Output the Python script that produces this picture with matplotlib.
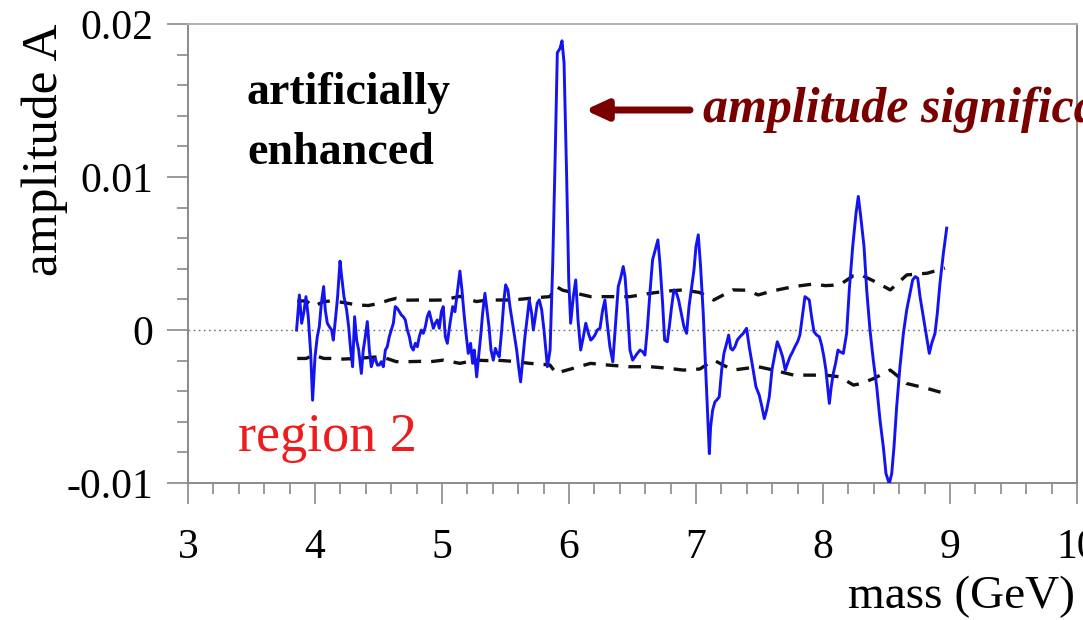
import matplotlib
matplotlib.use("Agg")
import matplotlib.pyplot as plt
import numpy as np

# ---------------- data ----------------
mass = [3.855, 3.877, 3.895, 3.913, 3.929, 3.947, 3.966, 3.981, 4.000, 4.018,
        4.034, 4.050, 4.068, 4.081, 4.097, 4.113, 4.131, 4.144, 4.163, 4.178,
        4.197, 4.210, 4.228, 4.249, 4.265, 4.281, 4.296, 4.312, 4.328, 4.344,
        4.365, 4.380, 4.396, 4.412, 4.428, 4.443, 4.459, 4.475, 4.491, 4.506,
        4.522, 4.538, 4.554, 4.569, 4.585, 4.601, 4.617, 4.632, 4.648, 4.664,
        4.680, 4.695, 4.711, 4.727, 4.743, 4.758, 4.774, 4.790, 4.806, 4.821,
        4.837, 4.853, 4.869, 4.884, 4.900, 4.916, 4.932, 4.947, 4.963, 4.979,
        4.995, 5.010, 5.026, 5.042, 5.063, 5.084, 5.102, 5.120, 5.141, 5.157,
        5.173, 5.189, 5.207, 5.225, 5.241, 5.254, 5.273, 5.288, 5.304, 5.320,
        5.338, 5.351, 5.370, 5.386, 5.404, 5.420, 5.435, 5.451, 5.470, 5.488,
        5.501, 5.519, 5.535, 5.551, 5.567, 5.588, 5.603, 5.619, 5.635, 5.653,
        5.672, 5.687, 5.706, 5.719, 5.735, 5.750, 5.766, 5.785, 5.803, 5.830,
        5.851, 5.872, 5.890, 5.908, 5.929, 5.945, 5.961, 5.982, 5.998, 6.013,
        6.034, 6.053, 6.071, 6.092, 6.113, 6.132, 6.153, 6.171, 6.186, 6.204,
        6.223, 6.244, 6.265, 6.283, 6.301, 6.322, 6.345, 6.388, 6.406, 6.427,
        6.441, 6.459, 6.480, 6.501, 6.519, 6.538, 6.559, 6.580, 6.598, 6.616,
        6.637, 6.658, 6.679, 6.700, 6.716, 6.737, 6.753, 6.774, 6.790, 6.808,
        6.826, 6.847, 6.863, 6.884, 6.905, 6.926, 6.945, 6.966, 6.984, 7.000,
        7.018, 7.036, 7.057, 7.073, 7.089, 7.105, 7.115, 7.131, 7.149, 7.162,
        7.183, 7.202, 7.220, 7.241, 7.257, 7.273, 7.288, 7.307, 7.325, 7.346,
        7.372, 7.398, 7.419, 7.446, 7.472, 7.498, 7.519, 7.538, 7.556, 7.577,
        7.598, 7.622, 7.640, 7.661, 7.682, 7.703, 7.721, 7.740, 7.761, 7.779,
        7.800, 7.818, 7.837, 7.858, 7.876, 7.892, 7.910, 7.929, 7.950, 7.971,
        7.989, 8.007, 8.023, 8.039, 8.050, 8.065, 8.081, 8.099, 8.118, 8.134,
        8.160, 8.186, 8.207, 8.234, 8.260, 8.278, 8.297, 8.323, 8.344, 8.370,
        8.396, 8.423, 8.449, 8.475, 8.496, 8.522, 8.541, 8.559, 8.580, 8.606,
        8.633, 8.659, 8.685, 8.706, 8.727, 8.746, 8.764, 8.790, 8.816, 8.837,
        8.856, 8.882, 8.900, 8.921, 8.948, 8.974]

amp_e3 = [0.00, 2.29, 0.44, 1.20, 2.18, 0.87, -1.53, -4.59, -1.75, -0.44,
          0.22, 1.75, 2.84, 1.31, 0.44, 0.22, 0.00, -0.66, 0.87, 2.18,
          4.50, 3.49, 2.18, 1.31, 0.22, -1.31, -2.40, 0.87, -0.66, -1.31,
          -2.84, -1.31, -0.44, 0.55, -1.31, -2.40, -1.97, -1.86, -2.29, -2.29,
          -2.07, -2.40, -1.31, -1.09, -0.44, 0.00, 0.44, 1.53, 1.42, 1.20,
          0.98, 0.87, 0.66, 0.00, -0.44, -1.09, -1.31, -0.87, -1.09, -0.44,
          0.00, -0.22, 0.22, 0.87, 1.20, 0.66, 0.11, 0.44, 0.66, 0.11,
          1.20, 1.53, -0.44, -0.87, 0.44, 1.53, 1.20, 2.40, 3.85, 2.62,
          1.09, -0.22, -1.53, -0.87, -2.18, -1.31, -3.06, -1.75, -0.44, 1.09,
          2.40, 1.53, 0.22, -1.31, -1.97, -1.20, -1.53, -1.75, 0.00, 1.97,
          2.95, 2.62, 1.53, 0.66, -0.22, -1.31, -2.40, -3.39, -1.97, -0.44,
          0.87, 1.97, 1.09, 0.00, 0.87, 1.75, 1.97, 1.31, 0.00, -2.40,
          -1.31, 4.37, 10.92, 18.12, 18.40, 18.90, 17.47, 9.83, 3.27, 0.44,
          2.18, 3.27, 0.65, -1.31, -0.44, 0.44, -0.22, -0.66, -0.55, -0.33,
          0.00, 0.11, 1.31, 1.96, 0.44, -1.09, -2.08, 2.84, 3.38, 4.15,
          3.49, 1.53, -1.31, -1.97, -1.75, -1.53, -1.31, -1.42, -1.64, 0.00,
          2.40, 4.58, 5.24, 5.89, 4.37, 1.75, -0.66, -0.77, 0.22, 1.53,
          2.62, 2.40, 1.96, 1.09, 0.22, -0.22, 1.53, 2.84, 3.93, 5.46,
          6.22, 4.15, 1.09, -1.97, -5.02, -8.08, -6.33, -5.24, -4.70, -4.59,
          -4.37, -2.62, -1.53, -0.87, -0.33, -1.20, -1.31, -1.09, -0.66, -0.44,
          -0.22, 0.11, -1.09, -2.40, -3.71, -4.26, -5.02, -5.79, -5.24, -4.37,
          -2.62, -1.53, -0.77, -1.20, -1.75, -2.62, -2.18, -1.75, -1.42, -1.09,
          -0.77, -0.33, 0.87, 2.18, 2.07, 1.96, 0.87, -0.11, -0.33, -0.44,
          -0.98, -1.75, -2.62, -3.93, -4.80, -3.71, -2.84, -2.18, -1.31, -1.42,
          -1.53, -0.22, 2.62, 5.46, 7.64, 8.73, 7.42, 5.46, 2.62, 0.00,
          -1.97, -3.71, -5.90, -7.64, -9.39, -10.05, -9.39, -7.64, -5.02, -2.40,
          -0.22, 1.31, 2.40, 3.27, 3.49, 3.38, 2.18, 0.87, -0.44, -1.53,
          -0.87, -0.22, 1.09, 3.05, 5.02, 6.66]

band_mass = [3.86, 3.93, 3.99, 4.07, 4.14, 4.22, 4.33, 4.42, 4.51, 4.58, 4.64,
             4.73, 4.83, 4.91, 5.01, 5.14, 5.27, 5.35, 5.43, 5.56, 5.69, 5.80,
             5.85, 5.90, 5.95, 6.03, 6.17, 6.32, 6.48, 6.64, 6.78, 6.90, 7.03,
             7.14, 7.29, 7.40, 7.49, 7.60, 7.77, 7.92, 8.02, 8.13, 8.24, 8.30,
             8.40, 8.53, 8.66, 8.82, 8.96]
band_upper_e3 = [1.90, 1.90, 1.55, 1.86, 1.90, 1.80, 1.64, 1.60, 1.75, 1.95, 2.07,
                 1.95, 1.96, 1.95, 1.96, 2.20, 1.86, 1.95, 1.96, 1.96, 2.07, 2.15,
                 2.18, 2.84, 2.60, 2.45, 2.18, 2.18, 2.18, 2.40, 2.55, 2.62, 2.45,
                 1.96, 2.62, 2.60, 2.29, 2.55, 2.84, 3.00, 2.90, 2.95, 3.55, 3.60,
                 3.20, 2.62, 3.60, 3.71, 4.04]
band_lower_e3 = [-1.86, -1.86, -1.64, -1.86, -1.86, -1.90, -1.86, -1.80, -1.75, -1.90, -2.07,
                 -2.07, -2.05, -2.07, -1.97, -2.18, -1.97, -2.00, -1.97, -2.05, -2.18, -2.25,
                 -2.29, -2.84, -2.70, -2.51, -2.18, -2.30, -2.40, -2.40, -2.50, -2.62, -2.55,
                 -1.97, -2.62, -2.50, -2.40, -2.60, -2.95, -2.95, -2.95, -3.06, -3.60, -3.50,
                 -3.17, -2.62, -3.50, -3.82, -4.15]

xticks = [3, 4, 5, 6, 7, 8, 9, 10]
yticks = [-0.01, 0, 0.01, 0.02]
ytick_labels = ["-0.01", "0", "0.01", "0.02"]

# ---------------- figure ----------------
plt.rcParams['font.family'] = ['Liberation Serif', 'DejaVu Serif']

fig = plt.figure(figsize=(10.83, 6.20), dpi=100)
ax = fig.add_axes([188/1083, 1-483/620, (1077-188)/1083, (483-24)/620])

amp = np.array(amp_e3) * 1e-3
up = np.array(band_upper_e3) * 1e-3
lo = np.array(band_lower_e3) * 1e-3

ax.axhline(0, color='#707070', lw=1.0, ls=(0, (1.2, 2.5)), zorder=1)
ax.plot(band_mass, up, color='#111111', lw=2.4, ls=(0, (3.8, 3.0)), zorder=2)
ax.plot(band_mass, lo, color='#111111', lw=2.4, ls=(0, (3.8, 3.0)), zorder=2)
ax.plot(mass, amp, color='#1414f0', lw=2.1, zorder=3)

ax.set_xlim(3, 10)
ax.set_ylim(-0.01, 0.02)
ax.set_xticks(xticks)
ax.set_xticklabels([str(t) for t in xticks])
ax.set_yticks(yticks)
ax.set_yticklabels(ytick_labels)
ax.set_xticks(np.arange(3, 10.001, 0.2), minor=True)
ax.set_yticks(np.arange(-0.01, 0.02001, 0.002), minor=True)

for s in ax.spines.values():
    s.set_color('#8a8a8a')
    s.set_linewidth(1.4)
ax.spines['top'].set_color('#b0b0b0')
ax.tick_params(which='both', direction='out', color='#8a8a8a', width=1.2,
               top=False, right=False, labelsize=30)
ax.tick_params(which='major', length=15)
ax.tick_params(which='minor', length=8)
ax.tick_params(axis='y', pad=10)
ax.tick_params(axis='x', pad=18)

fig.text(45/1083, 1-24/620, 'amplitude A', rotation=90, fontsize=37,
         ha='center', va='top')
fig.text(1075/1083, 1-597/620, 'mass (GeV)', fontsize=34,
         ha='right', va='center')

fig.text(247/1083, 1-93/620, 'artificially', fontsize=33, fontweight='bold',
         ha='left', va='center')
fig.text(247/1083, 1-153/620, 'enhanced', fontsize=33, fontweight='bold',
         ha='left', va='center')
fig.text(238/1083, 1-438/620, 'region 2', fontsize=39, color='#ee1c1c',
         ha='left', va='center')

ax.annotate('', xy=(585/1083, 1-110/620), xycoords='figure fraction',
            xytext=(690/1083, 1-110/620), textcoords='figure fraction',
            arrowprops=dict(arrowstyle='-|>,head_length=1.3,head_width=0.6',
                            color='#7a0000', lw=5, shrinkA=0, shrinkB=0))
fig.text(703/1083, 1-110/620, 'amplitude significance', fontsize=36,
         fontweight='bold', fontstyle='italic', color='#7a0000',
         ha='left', va='center')

fig.savefig('out.png', dpi=100)
